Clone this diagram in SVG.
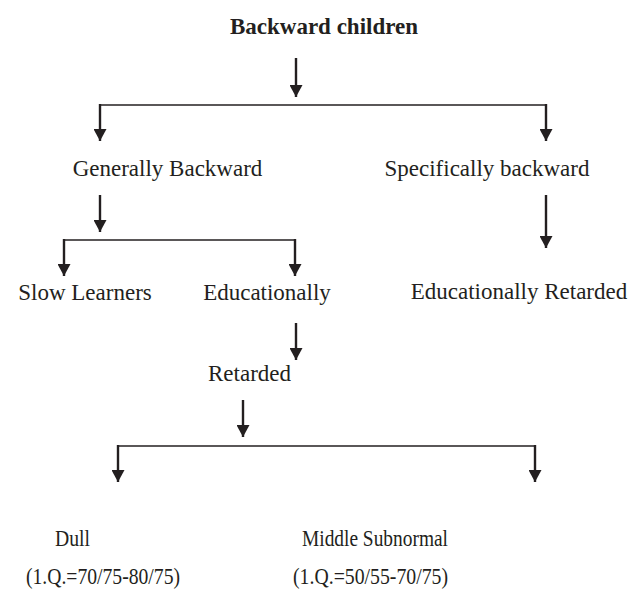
<svg xmlns="http://www.w3.org/2000/svg" width="633" height="592" viewBox="0 0 633 592">
<style>
text{font-family:"Liberation Serif","Times New Roman",serif;fill:#231f20;text-anchor:middle}
.t{font-size:23px}
.b{font-size:23px;font-weight:bold}
.s{font-size:22.5px}
.v{stroke:#231f20;stroke-width:2.4;fill:none;marker-end:url(#ah)}
.h{stroke:#231f20;stroke-width:1.6;fill:none}
</style>
<defs>
<marker id="ah" viewBox="0 0 12 13" refX="12" refY="6.5" markerWidth="12" markerHeight="13" markerUnits="userSpaceOnUse" orient="auto">
<path d="M0,0 L12,6.5 L0,13 z" fill="#231f20"/>
</marker>
</defs>
<rect width="633" height="592" fill="#fff"/>
<g id="connectors">
<path class="v" d="M296,58 V97"/>
<path class="h" d="M100,105 H546"/>
<path class="v" d="M100,104 V141"/>
<path class="v" d="M546,104 V141"/>
<path class="v" d="M100,195 V232"/>
<path class="h" d="M64,240 H295"/>
<path class="v" d="M64,239 V276"/>
<path class="v" d="M295,239 V276"/>
<path class="v" d="M546,195 V248"/>
<path class="v" d="M296,323 V360"/>
<path class="v" d="M243,400 V437"/>
<path class="h" d="M118,446 H535"/>
<path class="v" d="M118,445 V482"/>
<path class="v" d="M535,445 V482"/>
</g>
<g id="backward-children"><text class="b" x="324" y="34">Backward children</text></g>
<g id="generally-backward"><text class="t" x="167.5" y="176">Generally Backward</text></g>
<g id="specifically-backward"><text class="t" x="487" y="176">Specifically backward</text></g>
<g id="slow-learners"><text class="t" x="85" y="300">Slow Learners</text></g>
<g id="educationally"><text class="t" x="267" y="300">Educationally</text></g>
<g id="educationally-retarded"><text class="t" x="519" y="299">Educationally Retarded</text></g>
<g id="retarded"><text class="t" x="249.5" y="381">Retarded</text></g>
<g id="dull"><text class="s" x="72.5" y="546" textLength="35" lengthAdjust="spacingAndGlyphs">Dull</text><text class="s" x="103" y="584" textLength="154" lengthAdjust="spacingAndGlyphs">(1.Q.=70/75-80/75)</text></g>
<g id="middle-subnormal"><text class="s" x="375" y="546" textLength="146" lengthAdjust="spacingAndGlyphs">Middle Subnormal</text><text class="s" x="370.5" y="584" textLength="155" lengthAdjust="spacingAndGlyphs">(1.Q.=50/55-70/75)</text></g>
</svg>
